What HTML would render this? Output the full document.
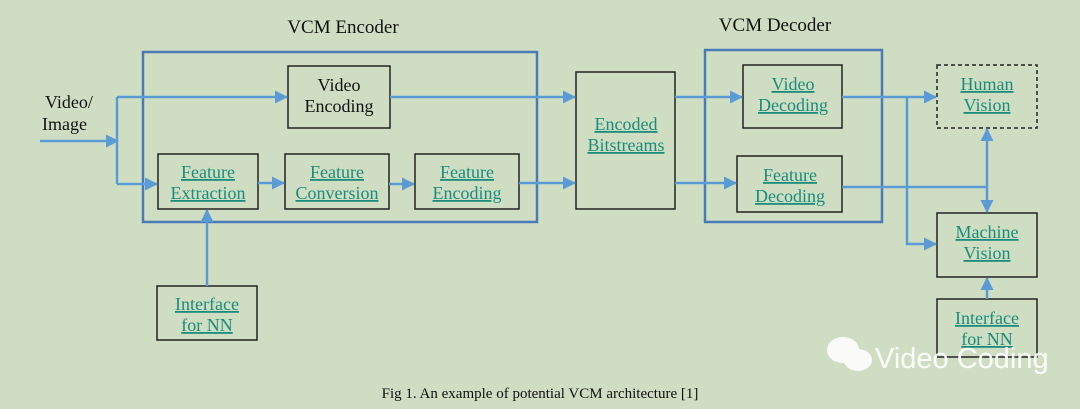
<!DOCTYPE html>
<html><head><meta charset="utf-8"><style>
body{margin:0;background:#cfdec3;}
svg{display:block}
.t{font-family:"Liberation Serif",serif;font-size:18px;fill:#1a8c7c;text-decoration:underline;text-anchor:middle}
.k{font-family:"Liberation Serif",serif;font-size:18px;fill:#111;text-anchor:middle}
</style></head><body>
<svg width="1080" height="409" viewBox="0 0 1080 409">
<defs><marker id="a" markerWidth="14" markerHeight="14" refX="12" refY="6.5" orient="auto" markerUnits="userSpaceOnUse"><path d="M0,0 L13,6.5 L0,13z" fill="#5b9bd5"/></marker></defs>
<rect width="1080" height="409" fill="#cfdec3"/>
<text x="343" y="33" font-family="Liberation Serif" font-size="19" text-anchor="middle" fill="#111">VCM Encoder</text>
<text x="775" y="31" font-family="Liberation Serif" font-size="19" text-anchor="middle" fill="#111">VCM Decoder</text>
<g fill="none" stroke="#4a7bb5" stroke-width="2.5">
<rect x="143" y="52" width="394" height="170"/>
<rect x="705" y="50" width="177" height="172"/>
</g>
<g fill="none" stroke="#222" stroke-width="1.5">
<rect x="288" y="66" width="102" height="62"/>
<rect x="158" y="154" width="100" height="55"/>
<rect x="285" y="154" width="104" height="55"/>
<rect x="415" y="154" width="104" height="55"/>
<rect x="157" y="286" width="100" height="54"/>
<rect x="576" y="72" width="99" height="137"/>
<rect x="743" y="65" width="99" height="63"/>
<rect x="737" y="156" width="105" height="56"/>
<rect x="937" y="65" width="100" height="63" stroke-dasharray="4,3"/>
<rect x="937" y="213" width="100" height="64"/>
<rect x="937" y="299" width="100" height="58"/>
</g>
<g fill="none" stroke="#5b9bd5" stroke-width="2.5">
<path d="M40 141 H118" marker-end="url(#a)"/>
<path d="M117 97 V184"/>
<path d="M117 97 H287" marker-end="url(#a)"/>
<path d="M117 184 H157" marker-end="url(#a)"/>
<path d="M258 183 H284" marker-end="url(#a)"/>
<path d="M389 184 H414" marker-end="url(#a)"/>
<path d="M390 97 H575" marker-end="url(#a)"/>
<path d="M519 183 H575" marker-end="url(#a)"/>
<path d="M207 286 V210" marker-end="url(#a)"/>
<path d="M675 97 H742" marker-end="url(#a)"/>
<path d="M675 183 H736" marker-end="url(#a)"/>
<path d="M842 97 H936" marker-end="url(#a)"/>
<path d="M907 97 V244 H936" marker-end="url(#a)"/>
<path d="M842 187 H987"/>
<path d="M987 187 V129" marker-end="url(#a)"/>
<path d="M987 187 V212" marker-end="url(#a)"/>
<path d="M987 299 V278" marker-end="url(#a)"/>
</g>
<text x="45" y="108" font-family="Liberation Serif" font-size="18" fill="#111">Video/</text>
<text x="42" y="130" font-family="Liberation Serif" font-size="18" fill="#111">Image</text>
<text class="k" x="339" y="91">Video</text><text class="k" x="339" y="112">Encoding</text>
<text class="t" x="208" y="178">Feature</text><text class="t" x="208" y="199">Extraction</text>
<text class="t" x="337" y="178">Feature</text><text class="t" x="337" y="199">Conversion</text>
<text class="t" x="467" y="178">Feature</text><text class="t" x="467" y="199">Encoding</text>
<text class="t" x="207" y="310">Interface</text><text class="t" x="207" y="331">for NN</text>
<text class="t" x="626" y="130">Encoded</text><text class="t" x="626" y="151">Bitstreams</text>
<text class="t" x="793" y="90">Video</text><text class="t" x="793" y="111">Decoding</text>
<text class="t" x="790" y="181">Feature</text><text class="t" x="790" y="202">Decoding</text>
<text class="t" x="987" y="90">Human</text><text class="t" x="987" y="111">Vision</text>
<text class="t" x="987" y="238">Machine</text><text class="t" x="987" y="259">Vision</text>
<text class="t" x="987" y="324">Interface</text><text class="t" x="987" y="345">for NN</text>
<g fill="#fff" opacity="0.9">
<ellipse cx="843" cy="350" rx="16" ry="13"/>
<ellipse cx="858" cy="360" rx="14" ry="11"/>
</g>
<text x="875" y="368" font-family="Liberation Sans,sans-serif" font-size="29" fill="#fff" opacity="0.92">Video Coding</text>
<text x="540" y="398" font-family="Liberation Serif" font-size="15" text-anchor="middle" fill="#111">Fig 1. An example of potential VCM architecture [1]</text>
</svg>
</body></html>
